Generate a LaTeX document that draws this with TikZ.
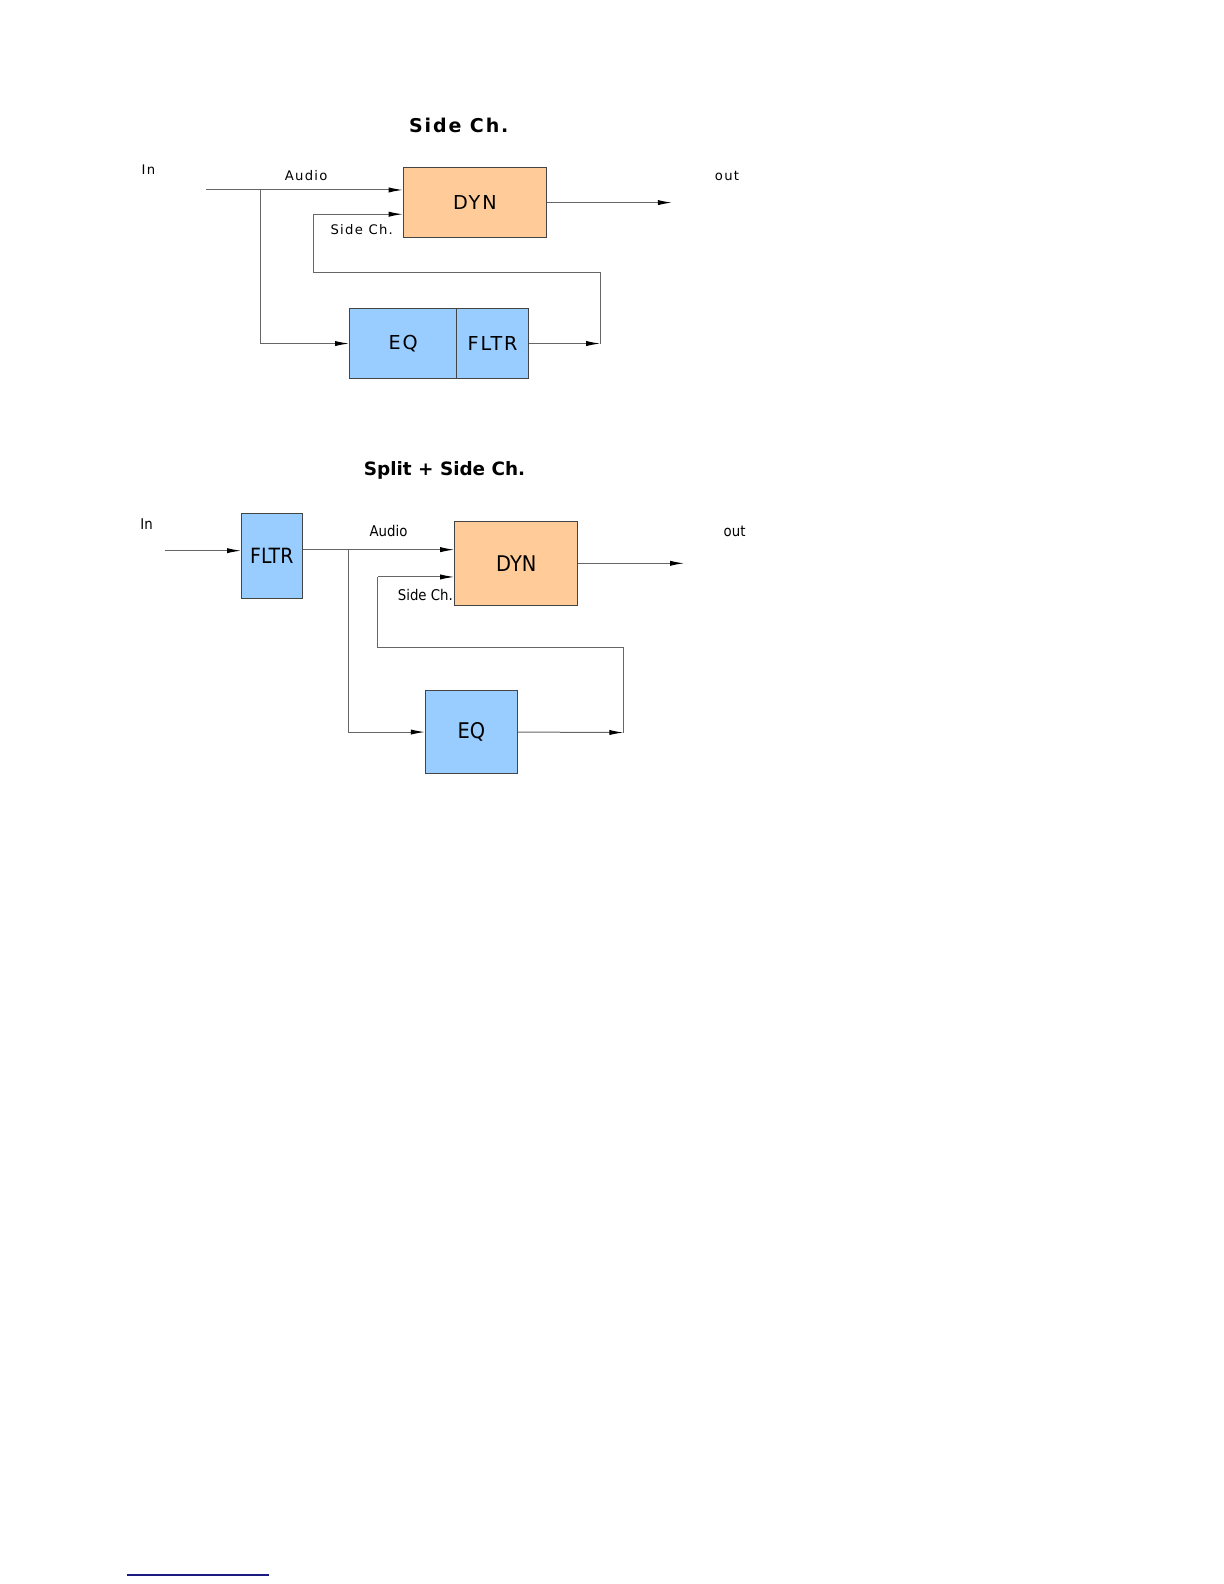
\documentclass[tikz,border=0pt]{standalone}
\usepackage{fontspec}
\setmainfont{DejaVu Sans}
\newfontfamily\wide[LetterSpace=10]{DejaVu Sans}
\newfontfamily\cond{DejaVu Sans Condensed}
\usepackage{tikz}
\usetikzlibrary{arrows.meta, positioning}
\definecolor{dynfill}{HTML}{FFCC99}
\definecolor{eqfill}{HTML}{99CCFF}
\definecolor{wiregray}{HTML}{666666}
\definecolor{boxline}{HTML}{444444}
\definecolor{rulenavy}{HTML}{1A1A80}

\begin{document}
\begin{tikzpicture}[x=0.5052pt, y=-0.5052pt, line width=0.5pt,
    wire/.style={draw=wiregray, -{Latex[length=7pt,width=2.6pt,color=black]}},
    line/.style={draw=wiregray},
    block/.style={draw=boxline, inner sep=0pt},
    dynbox/.style={block, fill=dynfill},
    eqbox/.style={block, fill=eqfill},
    every node/.style={inner sep=0pt}]
  \useasboundingbox (0pt,0pt) rectangle (612pt,-792pt);

  % top: side chain
  \node[font={\wide\bfseries\fontsize{9.5pt}{10pt}\selectfont}] at (454,124) (title1) {Side Ch.};
  \node[font={\wide\fontsize{6.6pt}{8pt}\selectfont}] at (147,168) (in1) {In};
  \node[font={\wide\fontsize{6.6pt}{8pt}\selectfont}] at (303,174) (audio1) {Audio};
  \node[font={\wide\fontsize{6.6pt}{8pt}\selectfont}] at (719.5,174) (out1) {out};
  \node[font={\wide\fontsize{6.6pt}{8pt}\selectfont}] at (358,227) (side1) {Side Ch.};
  \node[dynbox, minimum width=71.7pt, minimum height=34.9pt, font={\wide\fontsize{9.6pt}{10pt}\selectfont}] at (470,200.5) (dyn1) {DYN};
  \node[eqbox, minimum width=53.6pt, minimum height=35.4pt, font={\wide\fontsize{9.6pt}{10pt}\selectfont}] at (399,340) (eq1) {EQ};
  \node[eqbox, minimum width=35.9pt, minimum height=35.4pt, font={\wide\fontsize{9.6pt}{10pt}\selectfont}] at (487.5,340) (fltr1) {FLTR};

  \coordinate (src1) at (204,188);
  \coordinate (split1) at (258,188);
  \coordinate (ret1) at (594,340);
  \coordinate (sc1) at (310,212);
  \coordinate (dst1) at (665,200.5);

  \draw[wire] (src1) -- (dyn1.west |- src1);
  \draw[wire] (split1) |- (eq1.west);
  \draw[wire] (fltr1.east) -- (ret1);
  \draw[line] (ret1) -- (594,270) -- (310,270) -- (sc1);
  \draw[wire] (sc1) -- (dyn1.west |- sc1);
  \draw[wire] (dyn1.east) -- (dst1);

  % bottom: split + side chain
  \node[font={\bfseries\fontsize{9.2pt}{10pt}\selectfont}] at (440,466) (title2) {Split + Side Ch.};
  \node[font={\cond\fontsize{7.4pt}{9pt}\selectfont}] at (145,519) (in2) {In};
  \node[font={\cond\fontsize{7.4pt}{9pt}\selectfont}] at (384.5,526) (audio2) {Audio};
  \node[font={\cond\fontsize{7.4pt}{9pt}\selectfont}] at (727,526) (out2) {out};
  \node[font={\cond\fontsize{7.4pt}{9pt}\selectfont}] at (421,589) (side2) {Side Ch.};
  \node[eqbox, minimum width=30.3pt, minimum height=42.4pt, font={\cond\fontsize{10.5pt}{11pt}\selectfont}] at (269,550) (fltr2) {FLTR};
  \node[dynbox, minimum width=61.6pt, minimum height=41.9pt, font={\cond\fontsize{10.8pt}{11pt}\selectfont}] at (511,557.5) (dyn2) {DYN};
  \node[eqbox, minimum width=46pt, minimum height=41.9pt, font={\cond\fontsize{10.8pt}{11pt}\selectfont}] at (466.5,724.5) (eq2) {EQ};

  \coordinate (src2) at (163,545);
  \coordinate (split2) at (345,544);
  \coordinate (ret2) at (617,725);
  \coordinate (sc2) at (374,571);
  \coordinate (dst2) at (677,557.5);

  \draw[wire] (src2) -- (fltr2.west |- src2);
  \draw[wire] (fltr2.east |- split2) -- (dyn2.west |- split2);
  \draw[wire] (split2) |- (eq2.west);
  \draw[wire] (eq2.east) -- (ret2);
  \draw[line] (ret2) -- (617,641) -- (374,641) -- (sc2);
  \draw[wire] (sc2) -- (dyn2.west |- sc2);
  \draw[wire] (dyn2.east) -- (dst2);

  % footnote rule
  \draw[rulenavy, line width=0.8pt] (126,1559) -- (266,1559);
\end{tikzpicture}
\end{document}
